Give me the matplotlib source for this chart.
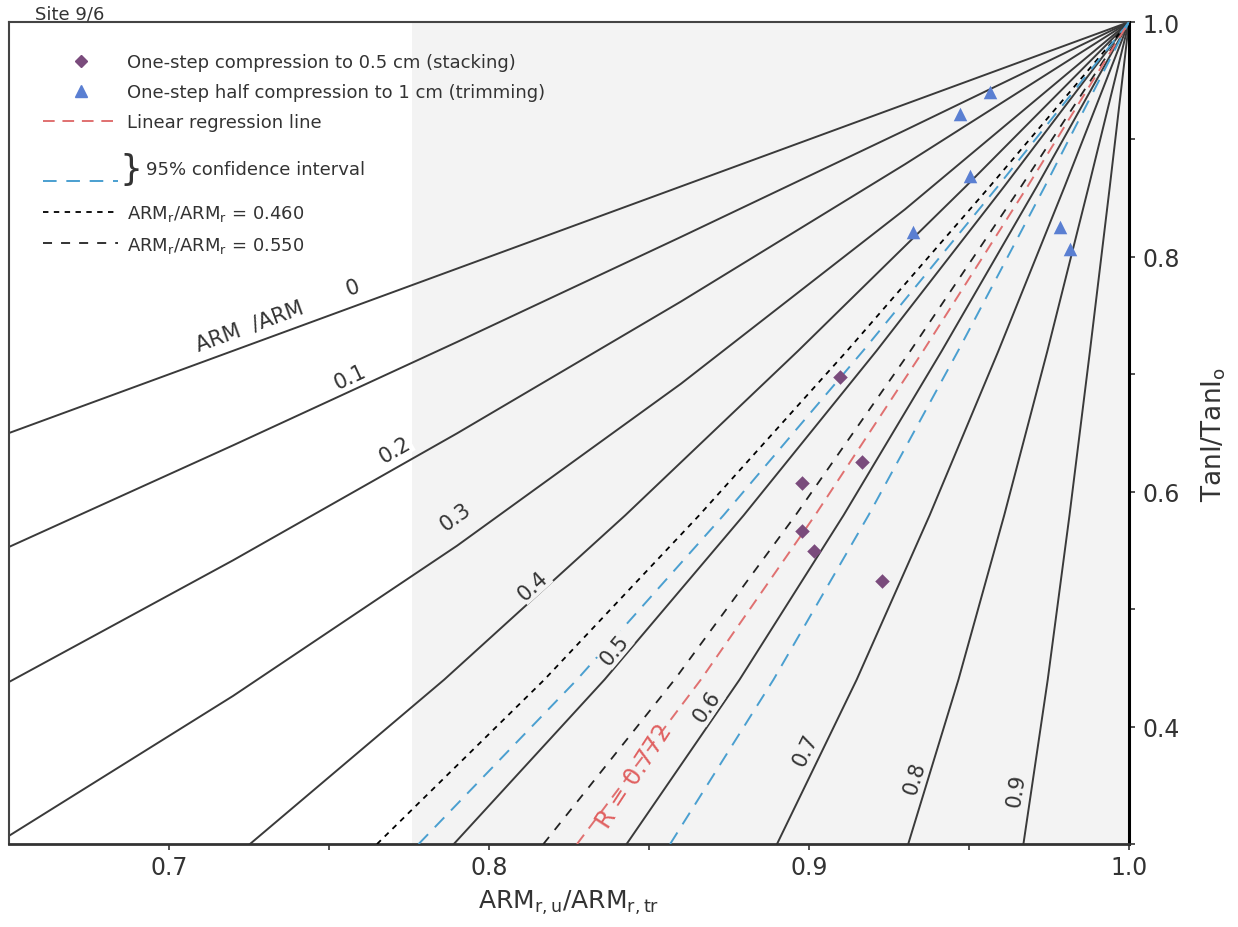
import matplotlib
matplotlib.use("Agg")
import matplotlib.pyplot as plt
from matplotlib.lines import Line2D

plt.rcParams['font.family'] = ['DejaVu Sans']

# ---------------- data ----------------
# family curves ARM/ARM = 0 ... 0.3 given as y at fixed x
shallow_x = [0.65, 0.72, 0.79, 0.86, 0.93, 1.0]
curve_00 = [0.65, 0.72, 0.79, 0.86, 0.93, 1.0]
curve_01 = [0.553, 0.6395, 0.7275, 0.817, 0.9078, 1.0]
curve_02 = [0.438, 0.5416, 0.6497, 0.762, 0.8789, 1.0]
curve_03 = [0.307, 0.4261, 0.554, 0.692, 0.8405, 1.0]
# family curves ARM/ARM = 0.4 ... 0.9 given as x at fixed y
steep_y = [0.3, 0.44, 0.58, 0.72, 0.86, 1.0]
curve_04 = [0.7253, 0.7860, 0.8426, 0.8966, 0.9490, 1.0]
curve_05 = [0.789, 0.8361, 0.8796, 0.9211, 0.9610, 1.0]
curve_06 = [0.843, 0.8783, 0.9108, 0.9415, 0.9712, 1.0]
curve_07 = [0.890, 0.9149, 0.9377, 0.9592, 0.9799, 1.0]
curve_08 = [0.931, 0.9467, 0.9610, 0.9745, 0.9874, 1.0]
curve_09 = [0.967, 0.9746, 0.9814, 0.9878, 0.9940, 1.0]

# dashed reference curves (x at steep_y)
arm_046 = [0.765, 0.8173, 0.8657, 0.9119, 0.9565, 1.0]
arm_055 = [0.817, 0.8580, 0.8958, 0.9317, 0.9663, 1.0]
ci_low = [0.778, 0.8275, 0.8733, 0.9169, 0.9590, 1.0]
ci_high = [0.8566, 0.8889, 0.9186, 0.9466, 0.9737, 1.0]
regression = [0.8275, 0.8662, 0.9019, 0.9357, 0.9683, 1.0]

# samples
stack_x = [0.9097, 0.9166, 0.8978, 0.8978, 0.9016, 0.9228]
stack_y = [0.698, 0.6252, 0.6073, 0.5664, 0.5494, 0.5238]
trim_x = [0.9566, 0.9472, 0.9503, 0.9325, 0.9784, 0.9816]
trim_y = [0.9404, 0.9216, 0.8688, 0.8211, 0.8254, 0.8066]

# contour label positions (x, y, rotation)
label_text = ['0', '0.1', '0.2', '0.3', '0.4', '0.5', '0.6', '0.7', '0.8', '0.9']
label_x = [0.7575, 0.7566, 0.7706, 0.7894, 0.8138, 0.8394, 0.8681, 0.8988, 0.9331, 0.9647]
label_y = [0.7743, 0.6985, 0.6363, 0.5792, 0.5204, 0.4659, 0.4174, 0.3807, 0.3569, 0.3467]
label_rot = [20, 25, 30, 36, 42, 50, 56, 64, 73, 81]

x_ticks = [0.7, 0.8, 0.9, 1.0]
x_minor = [0.75, 0.85, 0.95]
y_ticks = [0.4, 0.6, 0.8, 1.0]
y_minor = [0.3, 0.5, 0.7, 0.9]

# ---------------- figure ----------------
fig = plt.figure(figsize=(12.38, 9.28), dpi=100)
ax = fig.add_axes([0.00727, 0.0894, 0.9047, 0.8858])
ax.set_xlim(0.65, 1.0)
ax.set_ylim(0.3, 1.0)

# scan background tone on the right part
ax.axvspan(0.776, 1.0, color='#f3f3f3', zorder=0, lw=0)

line_kw = dict(color='#3a3a3a', lw=1.4, zorder=2)
for yv in [curve_00, curve_01, curve_02, curve_03]:
    ax.plot(shallow_x, yv, **line_kw)
for xv in [curve_04, curve_05, curve_06, curve_07, curve_08, curve_09]:
    ax.plot(xv, steep_y, **line_kw)

ax.plot(arm_046, steep_y, color='black', lw=1.3, dashes=(3, 3), zorder=3)
ax.plot(arm_055, steep_y, color='#222222', lw=1.3, dashes=(5, 5), zorder=3)
ax.plot(ci_low, steep_y, color='#4a9fd0', lw=1.4, dashes=(7, 5), zorder=3)
ax.plot(ci_high, steep_y, color='#4a9fd0', lw=1.4, dashes=(7, 5), zorder=3)
ax.plot(regression, steep_y, color='#e07070', lw=1.4, dashes=(6, 4), zorder=3)

ax.scatter(stack_x, stack_y, marker='D', s=55, color='#7a4b7c', zorder=5, linewidths=0)
ax.scatter(trim_x, trim_y, marker='^', s=95, color='#5a7fd2', zorder=5, linewidths=0)

for t, lx, ly, r in zip(label_text, label_x, label_y, label_rot):
    bg = '#f3f3f3' if lx > 0.776 else 'white'
    ax.text(lx, ly, t, rotation=r, fontsize=15, ha='center', va='center',
            color='#333333', zorder=4,
            bbox=dict(boxstyle='square,pad=0.05', fc=bg, ec='none'))
ax.text(0.7253, 0.7411, 'ARM  /ARM', rotation=20, fontsize=15, ha='center',
        va='center', color='#333333', zorder=4,
        bbox=dict(boxstyle='square,pad=0.05', fc='white', ec='none'))
ax.text(0.8456, 0.358, 'R = 0.772', rotation=57, fontsize=17, ha='center',
        va='center', color='#e06060', zorder=4)

# axes styling
for s in ['left', 'top']:
    ax.spines[s].set_color('#444444')
    ax.spines[s].set_linewidth(1.5)
ax.spines['right'].set_color('black')
ax.spines['right'].set_linewidth(2.2)
ax.spines['bottom'].set_color('#333333')
ax.spines['bottom'].set_linewidth(2.0)

ax.set_xticks(x_ticks)
ax.set_xticklabels([f'{v:.1f}' for v in x_ticks])
ax.set_xticks(x_minor, minor=True)
ax.yaxis.tick_right()
ax.yaxis.set_label_position('right')
ax.set_yticks(y_ticks)
ax.set_yticklabels([f'{v:.1f}' for v in y_ticks])
ax.set_yticks(y_minor, minor=True)
ax.tick_params(axis='both', which='both', direction='out', length=4, width=1.2,
               labelsize=17, colors='#333333', pad=4)
ax.tick_params(axis='y', which='both', left=False, right=True, pad=6)

ax.set_xlabel('ARM$_{\\rm r,u}$/ARM$_{\\rm r,tr}$', fontsize=18, color='#333333',
              labelpad=6)
ax.set_ylabel('TanI/TanI$_{\\rm o}$', fontsize=19, color='#333333', labelpad=14,
              rotation=90)

# legend
handles = [
    Line2D([], [], marker='D', ls='none', color='#7a4b7c', markersize=6),
    Line2D([], [], marker='^', ls='none', color='#5a7fd2', markersize=8),
    Line2D([], [], color='#e07070', lw=1.4, dashes=(6, 4)),
    Line2D([], [], ls='none'),
    Line2D([], [], color='#4a9fd0', lw=1.4, dashes=(7, 5)),
    Line2D([], [], color='black', lw=1.3, dashes=(3, 3)),
    Line2D([], [], color='#222222', lw=1.3, dashes=(5, 5)),
]
labels = [
    'One-step compression to 0.5 cm (stacking)',
    'One-step half compression to 1 cm (trimming)',
    'Linear regression line',
    ' ',
    ' ',
    'ARM$_{\\rm r}$/ARM$_{\\rm r}$ = 0.460',
    'ARM$_{\\rm r}$/ARM$_{\\rm r}$ = 0.550',
]
leg = ax.legend(handles, labels, loc='upper left', bbox_to_anchor=(0.030, 0.962),
                frameon=False, fontsize=13, handlelength=4.2, handletextpad=0.45,
                labelspacing=0.66, borderpad=0, borderaxespad=0)
for t in leg.get_texts():
    t.set_color('#333333')
ax.text(0.0985, 0.8212, '}', transform=ax.transAxes, fontsize=26, va='center',
        ha='left', color='#333333')
ax.text(0.1225, 0.8212, '95% confidence interval', transform=ax.transAxes,
        fontsize=13, va='center', ha='left', color='#333333')

fig.text(0.028, 0.979, 'Site 9/6', fontsize=13, ha='left', va='baseline',
         color='#333333')

fig.savefig('out.png', dpi=100)
